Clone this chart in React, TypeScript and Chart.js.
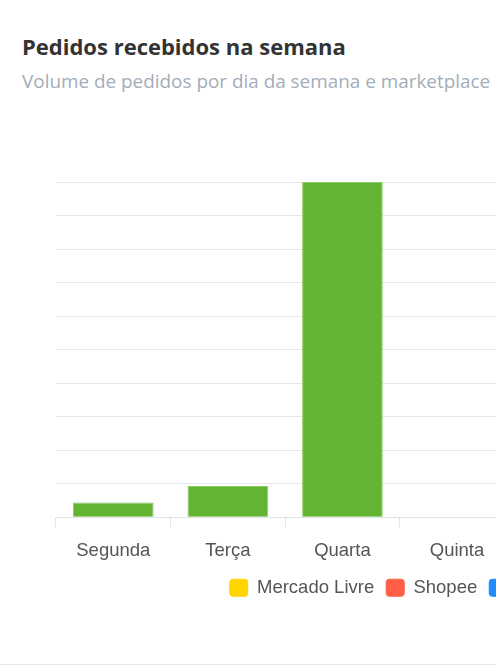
import { useEffect, useRef } from 'react';
import { Chart, registerables, Plugin } from 'chart.js';

Chart.register(...registerables);

const days = ['Segunda', 'Terça', 'Quarta', 'Quinta', 'Sexta', 'Sábado', 'Domingo'];
const marketplaces = ['Mercado Livre', 'Shopee', 'Magalu', 'Amazon'];
const mercadoLivre = [0, 0, 0, 0, 0, 0, 0];
const shopee = [0, 0, 0, 0, 0, 0, 0];
const magalu = [0, 0, 0, 0, 0, 0, 0];
const amazon = [44, 93, 1000, 0, 0, 0, 0];
const colors = ['#ffd500', '#ff5f45', '#1f8bff', '#64b434'];
const borders = ['#ffd500', '#ff5f45', '#1f8bff', '#8acb63'];

// pull the legend a bit closer to the axis labels
const legendOffset: Plugin<'bar'> = {
  id: 'legendOffset',
  afterLayout(chart) {
    if (chart.legend) {
      chart.legend.top -= 9;
      chart.legend.bottom -= 9;
    }
  },
};

function OrdersChart() {
  const canvasRef = useRef<HTMLCanvasElement>(null);
  const chartRef = useRef<Chart | null>(null);

  useEffect(() => {
    if (!canvasRef.current) return;
    if (chartRef.current) chartRef.current.destroy();

    const series = [mercadoLivre, shopee, magalu, amazon];

    chartRef.current = new Chart(canvasRef.current, {
      type: 'bar',
      data: {
        labels: days,
        datasets: marketplaces.map((name, i) => ({
          label: name,
          data: series[i],
          backgroundColor: colors[i],
          borderColor: borders[i],
          borderWidth: 1,
          categoryPercentage: 0.8,
          barPercentage: 0.88,
        })),
      },
      options: {
        responsive: true,
        maintainAspectRatio: false,
        animation: false,
        layout: { padding: { top: 72, left: 34, right: 34, bottom: 10 } },
        scales: {
          x: {
            stacked: true,
            grid: { drawOnChartArea: false, drawTicks: true, tickLength: 10, color: '#e3e3e3' },
            border: { color: '#e3e3e3' },
            ticks: {
              color: '#555',
              padding: 13,
              font: { family: 'Liberation Sans, Arial, sans-serif', size: 18.5 },
            },
          },
          y: {
            stacked: true,
            beginAtZero: true,
            ticks: { display: false },
            border: { display: false },
            grid: { color: '#e6e6e6', drawTicks: false },
          },
        },
        plugins: {
          legend: {
            position: 'bottom',
            labels: {
              color: '#555',
              boxWidth: 18,
              boxHeight: 17,
              useBorderRadius: true,
              borderRadius: 3,
              padding: 12,
              font: { family: 'Liberation Sans, Arial, sans-serif', size: 18.5 },
            },
          },
          tooltip: { enabled: false },
        },
      },
      plugins: [legendOffset],
    });

    return () => {
      if (chartRef.current) {
        chartRef.current.destroy();
        chartRef.current = null;
      }
    };
  }, []);

  return (
    <div style={{ position: 'absolute', top: 110, left: 22, width: 870, height: 516 }}>
      <canvas ref={canvasRef}></canvas>
    </div>
  );
}

export default function App() {
  return (
    <div style={{ position: 'fixed', top: 0, left: 0, width: '100vw', height: '100vh', overflow: 'hidden', background: '#fff' }}>
      <div style={{ position: 'absolute', top: 0, left: 0, width: 914, height: 664, borderBottom: '1px solid #e2e6ea', background: '#fff' }}>
        <div style={{ position: 'absolute', top: 31, left: 22, fontFamily: '"Open Sans", sans-serif', fontWeight: 700, fontSize: 22, color: '#333', whiteSpace: 'nowrap' }}>
          Pedidos recebidos na semana
        </div>
        <div style={{ position: 'absolute', top: 68, left: 22, fontFamily: '"Open Sans", sans-serif', fontSize: 18.9, color: '#a3adb9', whiteSpace: 'nowrap' }}>
          Volume de pedidos por dia da semana e marketplace
        </div>
        <OrdersChart />
      </div>
    </div>
  );
}
